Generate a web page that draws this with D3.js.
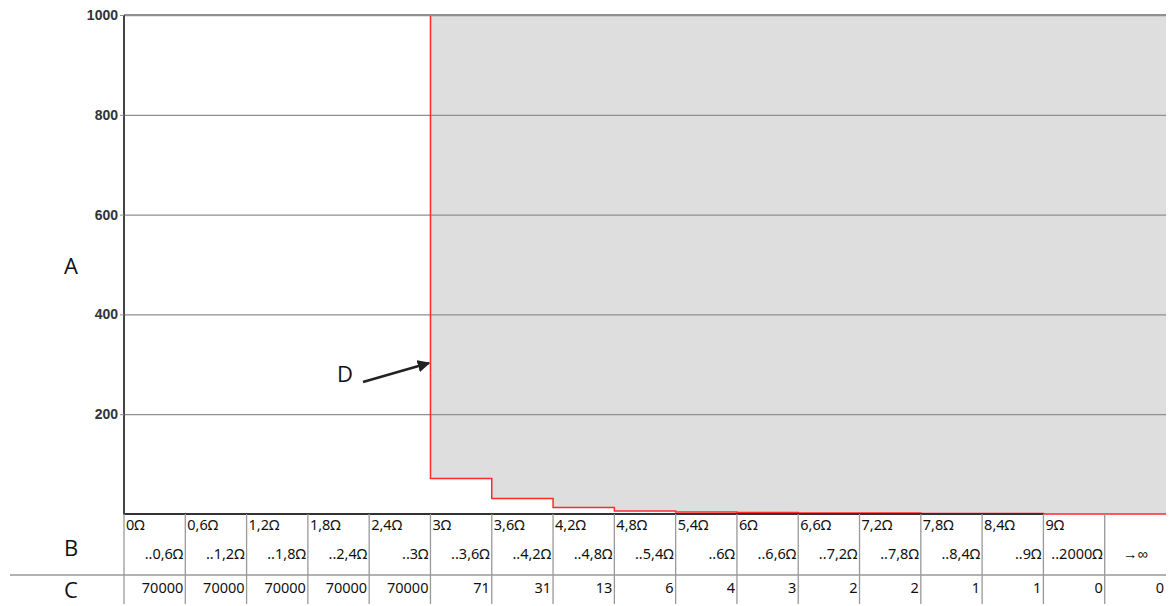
<!DOCTYPE html>
<html>
<head>
<meta charset="utf-8">
<script src="https://cdn.jsdelivr.net/npm/d3@7"></script>
<style>
  body { margin: 0; background: #fff; }
  svg { display: block; }
</style>
</head>
<body>
<svg id="chart" width="1175" height="606"></svg>
<script>
// bins of the table, row B (from / to) and row C (counts)
const binFrom = ["0Ω", "0,6Ω", "1,2Ω", "1,8Ω", "2,4Ω", "3Ω", "3,6Ω", "4,2Ω", "4,8Ω", "5,4Ω", "6Ω", "6,6Ω", "7,2Ω", "7,8Ω", "8,4Ω", "9Ω", ""]
const binTo = ["..0,6Ω", "..1,2Ω", "..1,8Ω", "..2,4Ω", "..3Ω", "..3,6Ω", "..4,2Ω", "..4,8Ω", "..5,4Ω", "..6Ω", "..6,6Ω", "..7,2Ω", "..7,8Ω", "..8,4Ω", "..9Ω", "..2000Ω", "→∞"]
const counts = [70000, 70000, 70000, 70000, 70000, 71, 31, 13, 6, 4, 3, 2, 2, 1, 1, 0, 0]
const yTicks = [200, 400, 600, 800, 1000]

const LEFT = 124, RIGHT = 1166, TOP = 15, BOTTOM = 514
const TABLE_MID = 575, TABLE_END = 604
const CELL_FONT = '"Noto Sans", sans-serif'

const svg = d3.select('#chart')

const xScale = d3.scaleBand()
  .domain(d3.range(counts.length))
  .range([LEFT, RIGHT])

const yScale = d3.scaleLinear()
  .domain([0, 1000])
  .range([BOTTOM, TOP])
  .clamp(true)

// step points: one per bin start, plus the right end
const stepPts = counts.map((c, i) => ({ x: xScale(i), v: c }))
stepPts.push({ x: RIGHT, v: counts[counts.length - 1] })

// grey area above the step
const area = d3.area()
  .x(d => d.x)
  .y0(TOP)
  .y1(d => yScale(d.v))
  .curve(d3.curveStepAfter)

svg.append('path')
  .datum(stepPts)
  .attr('d', area)
  .attr('fill', '#dedede')

// grid lines
svg.append('g')
  .attr('transform', `translate(${LEFT}, 0)`)
  .call(d3.axisRight(yScale).tickValues(yTicks).tickSize(RIGHT - LEFT).tickFormat(''))
  .call(g => g.select('.domain').remove())
  .call(g => g.selectAll('line').attr('stroke', '#8f8f8f').attr('stroke-width', 1.3))

// red step line
const line = d3.line()
  .x(d => d.x)
  .y(d => yScale(d.v))
  .curve(d3.curveStepAfter)

// the visible part starts where the values fall below the top
const firstVisible = counts.findIndex(c => c < 1000)
const visiblePts = [{ x: xScale(firstVisible), v: 1000 }].concat(stepPts.slice(firstVisible))
svg.append('path')
  .datum(visiblePts)
  .attr('d', line)
  .attr('fill', 'none')
  .attr('stroke', '#ff2a2a')
  .attr('stroke-width', 1.5)

// top border
svg.append('line')
  .attr('x1', LEFT).attr('x2', RIGHT)
  .attr('y1', yScale(1000)).attr('y2', yScale(1000))
  .attr('stroke', '#8f8f8f').attr('stroke-width', 2)

// bottom axis line (up to the start of the last open bins)
svg.append('line')
  .attr('x1', LEFT - 1).attr('x2', xScale(15))
  .attr('y1', BOTTOM).attr('y2', BOTTOM)
  .attr('stroke', '#333').attr('stroke-width', 2)

// y axis
const yAxis = svg.append('g')
  .attr('transform', `translate(${LEFT}, 0)`)
  .call(d3.axisLeft(yScale).tickValues(yTicks).tickSize(4).tickPadding(2).tickFormat(d3.format('d')))
yAxis.select('.domain').attr('d', `M0,${TOP}V${BOTTOM + 1}`).attr('stroke', '#444').attr('stroke-width', 2)
yAxis.selectAll('.tick line').attr('stroke', '#8f8f8f')
yAxis.selectAll('.tick text')
  .style('font-family', '"Liberation Sans", Arial, sans-serif')
  .style('font-size', '14px')
  .style('font-weight', 'bold')
  .style('fill', '#333')

// table lines
const table = svg.append('g')
  .style('font-family', CELL_FONT)
  .style('font-size', '14.5px')
  .style('fill', '#111')

table.append('line')
  .attr('x1', 10).attr('x2', RIGHT)
  .attr('y1', TABLE_MID).attr('y2', TABLE_MID)
  .attr('stroke', '#999').attr('stroke-width', 1.3)

table.selectAll('.col-line')
  .data(d3.range(counts.length))
  .enter()
  .append('line')
  .attr('x1', i => xScale(i)).attr('x2', i => xScale(i))
  .attr('y1', BOTTOM).attr('y2', TABLE_END)
  .attr('stroke', '#999').attr('stroke-width', 1.3)

// row B: from
table.selectAll('.from')
  .data(binFrom)
  .enter()
  .append('text')
  .attr('x', (d, i) => xScale(i) + 2)
  .attr('y', 530)
  .text(d => d)

// row B: to
const lastBin = binTo.length - 1
table.selectAll('.to')
  .data(binTo)
  .enter()
  .append('text')
  .attr('x', (d, i) => i === lastBin ? xScale(i) + xScale.bandwidth() / 2 : xScale(i) + xScale.bandwidth() - 2)
  .attr('text-anchor', (d, i) => i === lastBin ? 'middle' : 'end')
  .attr('y', 559)
  .text(d => d)

// row C: counts
table.selectAll('.count')
  .data(counts)
  .enter()
  .append('text')
  .attr('x', (d, i) => xScale(i) + xScale.bandwidth() - 2)
  .attr('text-anchor', 'end')
  .attr('y', 593)
  .text(d => d)

// letters
const letters = [
  { t: 'A', x: 71, y: 274 },
  { t: 'B', x: 71, y: 556 },
  { t: 'C', x: 71, y: 598 },
  { t: 'D', x: 345, y: 382 }
]
svg.selectAll('.big')
  .data(letters)
  .enter()
  .append('text')
  .attr('x', d => d.x).attr('y', d => d.y)
  .attr('text-anchor', 'middle')
  .style('font-family', '"Open Sans", "Noto Sans", sans-serif')
  .style('font-size', '22px')
  .style('fill', '#111')
  .text(d => d.t)

// arrow pointing at the step
svg.append('defs').append('marker')
  .attr('id', 'arrow')
  .attr('viewBox', '0 0 10 10')
  .attr('refX', 9).attr('refY', 5)
  .attr('markerWidth', 5).attr('markerHeight', 5)
  .attr('orient', 'auto')
  .append('path')
  .attr('d', 'M0,0L10,5L0,10Z')
  .attr('fill', '#222')

svg.append('line')
  .attr('x1', 363).attr('y1', 382)
  .attr('x2', 429).attr('y2', 363)
  .attr('stroke', '#222').attr('stroke-width', 2.5)
  .attr('marker-end', 'url(#arrow)')
</script>
</body>
</html>
